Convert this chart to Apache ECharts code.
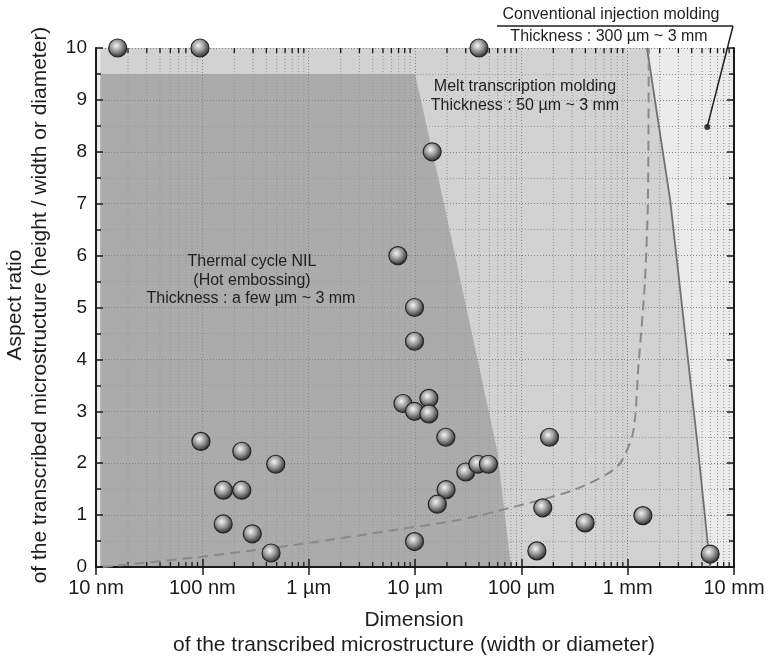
<!DOCTYPE html>
<html>
<head>
<meta charset="utf-8">
<script src="https://cdn.jsdelivr.net/npm/echarts@6/dist/echarts.min.js"></script>
<style>
  html, body { margin: 0; padding: 0; background: #ffffff; }
  #chart { width: 768px; height: 658px; }
</style>
</head>
<body>
<div id="chart"></div>
<script>
// Transcribed microstructures: width or diameter (nm) and aspect ratio
const dimensionsNm = [16, 95, 40000, 14500, 6900, 9900, 9900, 7700, 9900, 13500, 13500, 19500,
  97, 235, 490, 158, 235, 157, 295, 443,
  9900, 19600, 16200, 30000, 39000, 49000, 184000, 159000, 398000, 1390000, 140000, 5970000];
const aspectRatios = [10, 10, 10, 8.0, 6.0, 5.0, 4.35, 3.15, 3.0, 3.25, 2.95, 2.5,
  2.42, 2.23, 1.98, 1.48, 1.48, 0.83, 0.64, 0.27,
  0.49, 1.49, 1.21, 1.83, 1.98, 1.98, 2.5, 1.14, 0.85, 0.99, 0.31, 0.25];

// Axis tick labels (decades in nm)
const xTickValues = [10, 100, 1000, 10000, 100000, 1000000, 10000000];
const xTickLabels = ['10 nm', '100 nm', '1 \u00b5m', '10 \u00b5m', '100 \u00b5m', '1 mm', '10 mm'];

// Thermal cycle NIL (hot embossing) region outline
const nilEdgeX = [11, 10000, 18400, 59200, 80000];
const nilEdgeY = [9.5, 9.5, 7.07, 2.25, 0];

// Melt transcription / conventional injection molding boundary
const meltEdgeX = [1.52e6, 2.51e6, 4.6e6, 5.97e6];
const meltEdgeY = [10, 7.07, 2.25, 0];

// Dashed limit curve
const limitX = [11.6, 101.6, 830, 6220, 26500, 78500, 307000, 796000, 1.12e6, 1.26e6, 1.45e6, 1.55e6, 1.58e6];
const limitY = [0, 0.2, 0.44, 0.71, 0.91, 1.14, 1.48, 1.93, 2.58, 3.85, 5.47, 7.07, 10];

// Pointer target for the conventional injection molding label
const injectionPointer = [5.6e6, 8.48];

const FONT = '"Liberation Sans", Arial, sans-serif';

const zip = (xs, ys) => xs.map((x, i) => [x, ys[i]]);

// minor log positions 2..9 inside each decade
const minorLogValues = [];
for (let d = 10; d < 1e7; d *= 10) {
  for (let k = 2; k <= 9; k++) minorLogValues.push([d * k, 0]);
}

const chart = echarts.init(document.getElementById('chart'), null, { renderer: 'canvas' });

const sphere = {
  type: 'radial', x: 0.42, y: 0.38, r: 0.62,
  colorStops: [
    { offset: 0, color: '#f4f4f4' },
    { offset: 0.45, color: '#a0a0a0' },
    { offset: 0.85, color: '#4a4a4a' },
    { offset: 1, color: '#2a2a2a' }
  ]
};

const labelMap = {};
xTickValues.forEach((v, i) => { labelMap[v] = xTickLabels[i]; });

const commonX = {
  type: 'log', logBase: 10, min: 10, max: 1e7, z: 3
};

chart.setOption({
  animation: false,
  grid: { left: 96, right: 34, top: 48, bottom: 91, show: true, backgroundColor: '#ebebeb', borderWidth: 0 },
  xAxis: [
    Object.assign({}, commonX, {
      position: 'bottom',
      axisLine: { show: true, lineStyle: { color: '#1a1a1a', width: 2 } },
      axisTick: { show: true, inside: true, length: 8, lineStyle: { color: '#1a1a1a', width: 1.5 } },
      axisLabel: {
        color: '#1a1a1a', fontFamily: FONT, fontSize: 20, margin: 11,
        formatter: v => labelMap[Math.round(v)] || ''
      },
      splitLine: { show: true, lineStyle: { color: '#858585', type: [1, 2], width: 1 } },
      minorTick: { show: false },
      minorSplitLine: { show: false }
    }),
    Object.assign({}, commonX, {
      position: 'top',
      axisLine: { show: true, lineStyle: { color: '#1a1a1a', width: 2 } },
      axisTick: { show: true, inside: true, length: 8, lineStyle: { color: '#1a1a1a', width: 1.5 } },
      axisLabel: { show: false },
      splitLine: { show: false }
    })
  ],
  yAxis: [
    {
      type: 'value', min: 0, max: 10, interval: 1, z: 3, position: 'left',
      axisLine: { show: true, lineStyle: { color: '#1a1a1a', width: 2 } },
      axisTick: { show: true, inside: true, length: 7, lineStyle: { color: '#1a1a1a', width: 1.5 } },
      minorTick: { show: true, splitNumber: 2, length: 5, lineStyle: { color: '#1a1a1a', width: 1.5 } },
      axisLabel: { color: '#1a1a1a', fontFamily: FONT, fontSize: 19, margin: 9 },
      splitLine: { show: true, lineStyle: { color: '#858585', type: [1, 2], width: 1 } },
      minorSplitLine: { show: true, lineStyle: { color: '#9a9a9a', type: [1, 2], width: 1 } }
    },
    {
      type: 'value', min: 0, max: 10, interval: 1, z: 3, position: 'right',
      axisLine: { show: true, lineStyle: { color: '#1a1a1a', width: 2 } },
      axisTick: { show: true, inside: true, length: 7, lineStyle: { color: '#1a1a1a', width: 1.5 } },
      minorTick: { show: true, splitNumber: 2, length: 5, lineStyle: { color: '#1a1a1a', width: 1.5 } },
      axisLabel: { show: false },
      splitLine: { show: false }
    }
  ],
  series: [
    {
      // melt transcription molding region (left of the solid boundary)
      type: 'line', z: 1, silent: true, symbol: 'none',
      data: [[11, 10]].concat(zip(meltEdgeX, meltEdgeY)),
      lineStyle: { width: 0, opacity: 0 },
      areaStyle: { color: '#d2d2d2', opacity: 1, origin: 'start' }
    },
    {
      // thermal cycle NIL region
      type: 'line', z: 1, silent: true, symbol: 'none',
      data: zip(nilEdgeX, nilEdgeY),
      lineStyle: { width: 0, opacity: 0 },
      areaStyle: { color: '#ababab', opacity: 1, origin: 'start' }
    },
    {
      // minor log grid lines and ticks
      type: 'custom', z: 3, silent: true,
      data: minorLogValues,
      renderItem: (params, api) => {
        const v = api.value(0);
        const b = api.coord([v, 0]);
        const t = api.coord([v, 10]);
        return {
          type: 'group',
          children: [
            { type: 'line', shape: { x1: b[0], y1: b[1], x2: t[0], y2: t[1] },
              style: { stroke: '#959595', lineWidth: 1, lineDash: [1, 2] } },
            { type: 'line', shape: { x1: b[0], y1: b[1], x2: b[0], y2: b[1] - 5 },
              style: { stroke: '#1a1a1a', lineWidth: 1.3 } },
            { type: 'line', shape: { x1: t[0], y1: t[1], x2: t[0], y2: t[1] + 5 },
              style: { stroke: '#1a1a1a', lineWidth: 1.3 } }
          ]
        };
      }
    },
    {
      // solid boundary of conventional injection molding
      type: 'line', z: 4, silent: true, symbol: 'none',
      data: zip(meltEdgeX, meltEdgeY),
      lineStyle: { color: '#707070', width: 1.8 }
    },
    {
      // dashed limit curve
      type: 'line', z: 4, silent: true, symbol: 'none', smooth: 0.25,
      data: zip(limitX, limitY),
      lineStyle: { color: '#8a8a8a', width: 2, type: [10, 6] }
    },
    {
      type: 'scatter', z: 6, clip: false,
      symbolSize: 18,
      data: zip(dimensionsNm, aspectRatios),
      itemStyle: { color: sphere, borderColor: '#252525', borderWidth: 1.2, opacity: 1 }
    },
    {
      type: 'scatter', z: 6, clip: false, symbolSize: 6,
      data: [injectionPointer],
      itemStyle: { color: '#111111' }
    }
  ]
});

const tip = chart.convertToPixel({ xAxisIndex: 0, yAxisIndex: 0 }, injectionPointer);
const textStyle = (text, x, y, size) => ({
  type: 'text', x: x, y: y, z: 10,
  style: { text: text, fill: '#1e1e1e', font: size + 'px ' + FONT, align: 'center', verticalAlign: 'middle' }
});

chart.setOption({
  graphic: [
    textStyle('Conventional injection molding', 611, 15, 16),
    { type: 'line', z: 10, shape: { x1: 497, y1: 26, x2: 733, y2: 26 }, style: { stroke: '#1e1e1e', lineWidth: 1.3 } },
    textStyle('Thickness : 300 \u00b5m ~ 3 mm', 609, 37, 16),
    { type: 'line', z: 10, shape: { x1: 733, y1: 26, x2: tip[0], y2: tip[1] }, style: { stroke: '#1e1e1e', lineWidth: 1.5 } },
    textStyle('Melt transcription molding', 525, 87, 16),
    textStyle('Thickness : 50 \u00b5m ~ 3 mm', 525, 106, 16),
    textStyle('Thermal cycle NIL', 252, 262, 16),
    textStyle('(Hot embossing)', 252, 281, 16),
    textStyle('Thickness : a few \u00b5m ~ 3 mm', 251, 299, 16),
    textStyle('Dimension', 414, 620, 21),
    textStyle('of the transcribed microstructure (width or diameter)', 414, 645, 21),
    Object.assign(textStyle('Aspect ratio', 0, 0, 21), { x: 15, y: 305, rotation: Math.PI / 2 }),
    Object.assign(textStyle('of the transcribed microstructure (height / width or diameter)', 0, 0, 21), { x: 40, y: 305, rotation: Math.PI / 2 })
  ]
});
</script>
</body>
</html>
